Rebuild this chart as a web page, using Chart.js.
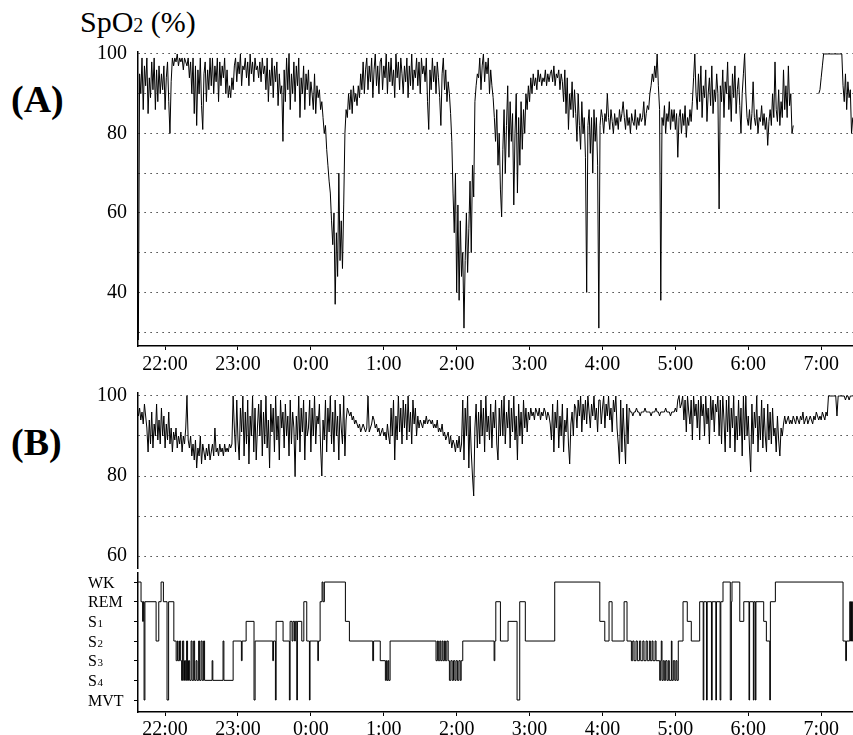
<!DOCTYPE html>
<html>
<head>
<meta charset="utf-8">
<script src="https://cdn.jsdelivr.net/npm/chart.js@4.4.0/dist/chart.umd.min.js"></script>
<style>
  html, body { margin: 0; padding: 0; background: #fff; }
  body { width: 853px; height: 735px; position: relative; overflow: hidden; font-family: "Liberation Serif", "Times New Roman", serif; color: #000; }
  .box { position: absolute; left: 0; }
  .lbl { position: absolute; white-space: nowrap; }
</style>
</head>
<body>
<div class="lbl" style="left:80px; top:5px; font-size:30px; line-height:34px;">SpO<span style="font-size:20px;">2</span> (%)</div>
<div class="lbl" style="left:11px; top:79px; font-size:38px; line-height:40px; font-weight:bold;">(A)</div>
<div class="lbl" style="left:11px; top:422px; font-size:38px; line-height:40px; font-weight:bold;">(B)</div>

<div class="box" style="top:0px;"><canvas id="chartA" width="853" height="380"></canvas></div>
<div class="box" style="top:375px;"><canvas id="chartB" width="853" height="195"></canvas></div>
<div class="box" style="top:570px;"><canvas id="chartH" width="853" height="165"></canvas></div>

<script>
// ---------------- DATA ----------------
// time axis: minutes after 21:00
const sampleStartMin = 38;   // first SpO2 sample at 21:38
const sampleStepMin = 1;     // one sample per minute
const xMinMin = 37.7;
const xMaxMin = 626.2;

const hourTicks  = [60, 120, 180, 240, 300, 360, 420, 480, 540, 600];
const hourLabels = ['22:00', '23:00', '0:00', '1:00', '2:00', '3:00', '4:00', '5:00', '6:00', '7:00'];

// Panel (A) SpO2 (%), one row = 20 minutes
const spo2A = [
  28, 95, 90, 99, 86, 97, 92, 99, 85, 94, 89, 98, 91, 99, 86, 96, 88, 97, 90, 95,
  91, 97, 86, 94, 98, 88, 80, 93, 99, 97, 99, 98, 100, 97, 99, 98, 99, 96, 99, 98,
  97, 99, 94, 98, 90, 99, 85, 97, 82, 96, 90, 99, 87, 81, 95, 98, 88, 96, 91, 99,
  92, 99, 90, 97, 93, 99, 88, 98, 92, 97, 94, 99, 90, 96, 89, 92, 89, 94, 91, 97,
  99, 93, 98, 95, 100, 92, 97, 96, 99, 94, 98, 92, 100, 95, 98, 93, 99, 96, 97, 94,
  98, 93, 99, 95, 97, 91, 99, 88, 96, 92, 99, 89, 97, 93, 98, 87, 95, 90, 92, 78,
  96, 88, 99, 91, 100, 86, 95, 90, 98, 88, 97, 92, 99, 84, 94, 90, 97, 86, 95, 91,
  96, 87, 93, 90, 86, 95, 85, 92, 89, 91, 86, 88, 84, 80, 82, 76, 72, 68, 65, 58,
  52, 60, 37, 55, 44, 70, 48, 58, 46, 62, 80, 86, 84, 90, 86, 91, 85, 92, 88, 90,
  87, 92, 89, 95, 91, 98, 90, 96, 99, 91, 97, 93, 99, 89, 96, 100, 92, 97, 90, 98,
  99, 91, 97, 94, 100, 90, 98, 93, 99, 92, 96, 89, 100, 94, 98, 91, 99, 95, 90, 97,
  93, 99, 89, 97, 92, 100, 91, 96, 94, 99, 92, 98, 90, 99, 95, 97, 93, 99, 88, 81,
  96, 91, 99, 93, 97, 90, 98, 94, 89, 82, 95, 99, 91, 96, 88, 93, 90, 85, 78, 65,
  55, 70, 40, 62, 38, 58, 44, 50, 31, 48, 60, 45, 56, 68, 50, 72, 64, 88, 92, 95,
  94, 99, 91, 97, 100, 93, 98, 95, 99, 90, 96, 92, 89, 84, 78, 86, 72, 80, 66, 59,
  76, 86, 70, 82, 92, 74, 88, 78, 85, 62, 80, 90, 65, 84, 72, 88, 76, 86, 80, 90,
  86, 92, 88, 94, 90, 95, 92, 94, 91, 96, 93, 95, 92, 94, 93, 96, 92, 95, 93, 95,
  96, 93, 97, 92, 95, 94, 96, 91, 95, 93, 88, 96, 85, 94, 81, 90, 86, 93, 84, 91,
  85, 78, 90, 82, 76, 88, 80, 84, 74, 40, 82, 86, 75, 84, 70, 86, 78, 84, 72, 31,
  82, 86, 84, 80, 85, 83, 90, 84, 81, 86, 83, 80, 85, 82, 84, 81, 86, 83, 85, 88,
  84, 81, 86, 82, 84, 80, 85, 83, 82, 86, 81, 84, 82, 85, 83, 84, 88, 82, 85, 87,
  86, 90, 92, 95, 93, 97, 94, 100, 92, 86, 38, 84, 82, 87, 80, 85, 83, 88, 81, 86,
  83, 86, 81, 85, 74, 84, 86, 80, 85, 82, 87, 79, 84, 82, 86, 83, 88, 94, 100, 90,
  86, 95, 88, 97, 84, 92, 89, 96, 83, 90, 94, 87, 97, 85, 91, 88, 95, 90, 61, 92,
  88, 96, 84, 93, 90, 98, 86, 92, 83, 95, 89, 97, 85, 91, 94, 87, 80, 90, 95, 100,
  90, 84, 82, 86, 81, 85, 93, 84, 82, 86, 80, 84, 83, 87, 82, 85, 81, 84, 77, 83,
  86, 82, 90, 84, 98, 86, 83, 91, 82, 88, 84, 96, 86, 92, 84, 97, 87, 90, 80, 82,
  null, null, null, null, null, null, null, null, null, null, null, null, null, null, null, null, null, null, null, null,
  90, 91, 94, 97, 100, 100, 100, 100, 100, 100, 100, 100, 100, 100, 100, 100, 100, 100, 100, 100,
  92, 88, 95, 86, 93, 89, 91, 80, 84
];

// Panel (B) SpO2 (%), one row = 20 minutes
const spo2B = [
  95, 97, 94, 96, 93, 98, 95, 92, 86, 94, 88, 96, 87, 93, 90, 98, 89, 94, 88, 97,
  90, 95, 87, 93, 89, 96, 88, 92, 86, 91, 89, 92, 87, 90, 88, 91, 86, 90, 88, 92,
  100, 89, 87, 90, 85, 88, 84, 89, 82, 87, 85, 90, 83, 88, 86, 84, 87, 85, 88, 84,
  86, 88, 85, 92, 86, 87, 85, 88, 86, 87, 85, 88, 86, 87, 86, 88, 87, 88, 100, 92,
  86, 99, 89, 84, 97, 91, 100, 85, 96, 88, 99, 83, 95, 90, 100, 86, 97, 84, 92, 98,
  90, 99, 85, 96, 88, 100, 87, 94, 82, 98, 91, 97, 86, 100, 89, 95, 84, 99, 92, 96,
  87, 98, 90, 95, 85, 99, 88, 96, 92, 80, 95, 89, 100, 86, 97, 91, 99, 84, 96, 90,
  92, 99, 86, 97, 90, 100, 88, 95, 93, 98, 87, 80, 94, 89, 99, 86, 97, 91, 100, 88,
  96, 86, 99, 90, 95, 84, 98, 92, 88, 100, 85, 94, 97, 96, 95, 96, 94, 95, 93, 94,
  93, 92, 93, 91, 92, 93, 92, 91, 92, 100, 91, 92, 93, 95, 94, 92, 93, 91, 92, 90,
  91, 92, 90, 91, 89, 93, 90, 88, 97, 90, 99, 84, 95, 89, 100, 91, 97, 88, 99, 92,
  98, 89, 100, 91, 96, 88, 99, 93, 97, 90, 95, 92, 94, 93, 92, 94, 93, 95, 93, 94,
  94, 93, 94, 92, 93, 92, 94, 91, 92, 91, 93, 90, 91, 89, 90, 91, 88, 90, 87, 89,
  88, 86, 89, 87, 90, 86, 88, 99, 84, 97, 90, 100, 82, 95, 86, 80, 75, 92, 98, 87,
  96, 88, 99, 90, 97, 86, 100, 91, 95, 89, 98, 87, 96, 92, 99, 88, 84, 97, 90, 99,
  90, 100, 88, 96, 92, 99, 87, 97, 91, 100, 89, 95, 84, 98, 90, 96, 88, 99, 92, 97,
  91, 96, 94, 97, 95, 96, 94, 97, 96, 95, 97, 94, 96, 95, 97, 96, 94, 96, 95, 93,
  89, 98, 86, 96, 92, 99, 87, 95, 90, 98, 86, 94, 91, 97, 88, 83, 93, 96, 90, 98,
  97, 92, 99, 95, 100, 91, 98, 94, 99, 93, 100, 96, 92, 98, 95, 100, 94, 97, 91, 99,
  99, 93, 97, 100, 92, 98, 95, 100, 94, 97, 91, 99, 96, 100, 92, 88, 83, 99, 86, 97,
  90, 83, 98, 88, 97, 96, 96, 95, 96, 96, 97, 96, 96, 95, 96, 96, 96, 97, 96, 96,
  96, 96, 95, 96, 96, 96, 97, 96, 96, 95, 96, 96, 96, 96, 97, 96, 96, 96, 95, 96,
  96, 96, 97, 96, 99, 100, 97, 98, 100, 94, 99, 91, 100, 96, 93, 99, 89, 100, 95, 98,
  92, 99, 89, 100, 95, 98, 90, 100, 93, 97, 88, 100, 94, 99, 91, 98, 96, 100, 90, 99,
  88, 100, 94, 86, 99, 91, 100, 87, 97, 92, 100, 86, 95, 89, 99, 90, 97, 85, 100, 89,
  100, 90, 95, 87, 81, 98, 88, 96, 92, 100, 86, 95, 89, 99, 87, 97, 90, 86, 98, 89,
  96, 88, 97, 90, 92, 86, 95, 89, 85, 92, 90, 93, 95, 93, 94, 95, 93, 94, 93, 95,
  94, 93, 95, 94, 93, 95, 94, 96, 93, 94, 95, 93, 94, 95, 94, 93, 95, 94, 96, 95,
  94, 95, 94, 96, 95, 94, 96, 95, 100, 100, 100, 100, 100, 100, 100, 95, 100, 100, 100, 100,
  100, 100, 99, 100, 100, 99, 100, 100, 100
];

// Hypnogram: stage codes 0=MVT 1=S4 2=S3 3=S2 4=S1 5=REM 6=WK
const stageLabels = ['MVT', 'S4', 'S3', 'S2', 'S1', 'REM', 'WK'];
const stageValues = [0, 1, 2, 3, 4, 5, 6];
const hypTimes = [
  37.8, 40.2, 41.5, 42.1, 42.7, 43.4, 52.6, 54.8, 56.7, 58.6, 61.6, 62.9, 67.2, 69.1, 70.1, 70.7, 71.9, 72.8, 73.6, 74.4,
  75.3, 76.0, 76.9, 77.7, 78.5, 79.3, 80.2, 81.4, 82.2, 83.5, 84.3, 85.5, 86.3, 87.6, 88.4, 89.6, 90.5, 91.7, 92.5, 98.7,
  99.3, 107.7, 108.4, 116.0, 122.8, 123.4, 126.7, 133.2, 134.1, 148.6, 149.2, 150.8, 151.4, 157.1, 162.3, 162.9, 164.5, 165.3, 166.6, 167.2,
  168.4, 168.9, 172.5, 174.2, 176.6, 178.8, 179.3, 185.7, 186.2, 187.6, 189.2, 190.0, 191.1, 208.4, 211.7, 230.9, 231.6, 237.1, 241.3, 242.1,
  242.7, 243.5, 244.1, 245.2, 283.0, 284.1, 284.9, 286.1, 286.9, 288.0, 288.8, 289.9, 290.7, 291.9, 293.0, 294.0, 295.2, 296.3, 297.4, 298.5,
  299.5, 300.6, 301.8, 302.9, 303.7, 305.0, 330.8, 331.4, 332.2, 336.0, 342.3, 349.7, 351.9, 356.5, 380.7, 417.8, 421.9, 425.4, 427.9, 437.8,
  440.2, 443.8, 444.9, 446.0, 447.6, 448.7, 450.4, 451.5, 453.2, 454.2, 455.9, 456.9, 458.6, 459.4, 460.8, 461.6, 463.3, 464.1, 467.1, 467.9,
  468.4, 469.0, 470.0, 470.9, 472.0, 473.1, 474.2, 475.0, 476.7, 477.2, 478.3, 479.5, 480.5, 481.3, 482.4, 486.3, 489.8, 493.1, 500.0, 502.9,
  503.4, 505.6, 506.2, 509.7, 510.3, 513.3, 513.8, 516.8, 517.4, 519.2, 525.2, 526.1, 526.6, 533.0, 536.3, 540.6, 541.1, 544.2, 544.7, 545.8,
  546.3, 552.7, 554.9, 557.7, 558.2, 562.3, 618.0, 620.2, 620.8, 623.5, 624.2, 625.0, 625.7, 626.2
];
const hypStages = [
  6, 5, 4, 5, 0, 5, 3, 5, 6, 5, 0, 5, 3, 2, 3, 2, 3, 2, 1, 3,
  1, 2, 1, 3, 1, 2, 1, 3, 1, 3, 1, 2, 1, 3, 1, 3, 1, 3, 1, 2,
  1, 3, 1, 3, 2, 3, 4, 0, 3, 2, 3, 0, 4, 3, 0, 4, 3, 4, 3, 4,
  0, 4, 3, 5, 3, 0, 3, 2, 3, 5, 6, 5, 6, 4, 3, 2, 3, 2, 1, 2,
  1, 2, 1, 3, 2, 3, 2, 3, 2, 3, 2, 3, 2, 3, 2, 1, 2, 1, 2, 1,
  2, 1, 2, 1, 2, 3, 2, 3, 5, 3, 4, 0, 5, 3, 6, 4, 3, 5, 3, 5,
  3, 2, 3, 2, 3, 2, 3, 2, 3, 2, 3, 2, 3, 2, 3, 2, 3, 2, 1, 2,
  3, 1, 2, 1, 2, 1, 2, 1, 3, 1, 2, 1, 2, 1, 3, 5, 4, 3, 5, 0,
  5, 0, 5, 0, 5, 0, 5, 0, 5, 6, 0, 5, 6, 4, 5, 0, 5, 0, 5, 0,
  5, 4, 3, 0, 5, 6, 3, 2, 3, 5, 3, 5, 3, 3
];

// ---------------- RENDERING ----------------
Chart.defaults.font.family = '"Liberation Serif", "Times New Roman", serif';
Chart.defaults.color = '#000';
Chart.defaults.animation = false;

const seriesPoints = (vals) => vals.map((v, i) => ({ x: sampleStartMin + i * sampleStepMin, y: v }));
const hypPoints = hypTimes.map((t, i) => ({ x: t, y: hypStages[i] }));

const Y_AXIS_WIDTH = 138;

function xAxis(show, height, pad) {
  return {
    type: 'linear', min: xMinMin, max: xMaxMin, display: show,
    afterBuildTicks: (s) => { s.ticks = hourTicks.map(v => ({ value: v })); },
    afterFit: (s) => { s.height = height; s.paddingLeft = 0; s.paddingRight = 0; },
    ticks: {
      autoSkip: false, maxRotation: 0, padding: pad,
      font: { size: 20 },
      callback: (v) => hourLabels[hourTicks.indexOf(v)]
    },
    grid: { drawOnChartArea: false, drawTicks: true, tickLength: 4, color: '#000', lineWidth: 1 },
    border: { display: true, color: '#000', width: 1.5 }
  };
}

function spo2YAxis(min, max, gridVals, labelVals) {
  return {
    type: 'linear', min: min, max: max,
    afterBuildTicks: (s) => { s.ticks = gridVals.map(v => ({ value: v })); },
    afterFit: (s) => { s.width = Y_AXIS_WIDTH; s.paddingTop = 0; s.paddingBottom = 0; },
    ticks: {
      autoSkip: false, padding: 11, font: { size: 20 },
      callback: (v) => (labelVals.indexOf(v) >= 0 ? String(v) : '')
    },
    grid: { drawOnChartArea: true, drawTicks: false, color: '#111', lineWidth: 1 },
    border: { display: true, color: '#000', width: 1.5, dash: [1.2, 4.8] }
  };
}

const lineStyle = { borderColor: '#000', borderWidth: 1, pointRadius: 0, tension: 0, spanGaps: false, fill: false };

// Panel A
const gridA = [30, 40, 50, 60, 70, 80, 90, 100];
const labA = [40, 60, 80, 100];
new Chart(document.getElementById('chartA'), {
  type: 'line',
  data: { datasets: [Object.assign({ data: seriesPoints(spo2A) }, lineStyle)] },
  options: {
    responsive: false, devicePixelRatio: 1,
    layout: { padding: { left: 0, right: 0, top: 51.6, bottom: 0 } },
    plugins: { legend: { display: false }, tooltip: { enabled: false } },
    scales: { x: xAxis(true, 34, 3), y: spo2YAxis(26.5, 100.6, gridA, labA) }
  }
});

// Panel B
const gridB = [60, 70, 80, 90, 100];
const labB = [60, 80, 100];
new Chart(document.getElementById('chartB'), {
  type: 'line',
  data: { datasets: [Object.assign({ data: seriesPoints(spo2B) }, lineStyle)] },
  options: {
    responsive: false, devicePixelRatio: 1,
    layout: { padding: { left: 0, right: 0, top: 18, bottom: 2 } },
    plugins: { legend: { display: false }, tooltip: { enabled: false } },
    scales: { x: xAxis(false, 0, 0), y: spo2YAxis(57, 100.75, gridB, labB) }
  }
});

// Hypnogram
const stageLabelPlugin = {
  id: 'stageLabels',
  afterDraw(chart) {
    const ctx = chart.ctx;
    const ys = chart.scales.y;
    ctx.save();
    ctx.fillStyle = '#000';
    ctx.textAlign = 'left';
    ctx.textBaseline = 'alphabetic';
    stageLabels.forEach((lab, i) => {
      const py = ys.getPixelForValue(stageValues[i]) + 5.5;
      const m = lab.match(/^(\D+)(\d*)$/);
      ctx.font = '16px "Liberation Serif"';
      ctx.fillText(m[1], 88, py);
      if (m[2]) {
        const w = ctx.measureText(m[1]).width;
        ctx.font = '11px "Liberation Serif"';
        ctx.fillText(m[2], 88 + w + 0.5, py);
      }
    });
    ctx.restore();
  }
};

new Chart(document.getElementById('chartH'), {
  type: 'line',
  data: { datasets: [Object.assign({ data: hypPoints, stepped: true }, lineStyle)] },
  options: {
    responsive: false, devicePixelRatio: 1,
    layout: { padding: { left: 0, right: 0, top: 3, bottom: 0 } },
    plugins: { legend: { display: false }, tooltip: { enabled: false } },
    scales: {
      x: xAxis(true, 23, 2),
      y: {
        type: 'linear', min: -0.61, max: 6.46,
        afterBuildTicks: (s) => { s.ticks = stageValues.map(v => ({ value: v })); },
        afterFit: (s) => { s.width = Y_AXIS_WIDTH; s.paddingTop = 0; s.paddingBottom = 0; },
        ticks: { display: true, padding: 0, font: { size: 1 }, callback: () => '' },
        grid: { drawOnChartArea: false, drawTicks: true, tickLength: 4, color: '#000', lineWidth: 1 },
        border: { display: true, color: '#000', width: 1.5 }
      }
    }
  },
  plugins: [stageLabelPlugin]
});
</script>
</body>
</html>
